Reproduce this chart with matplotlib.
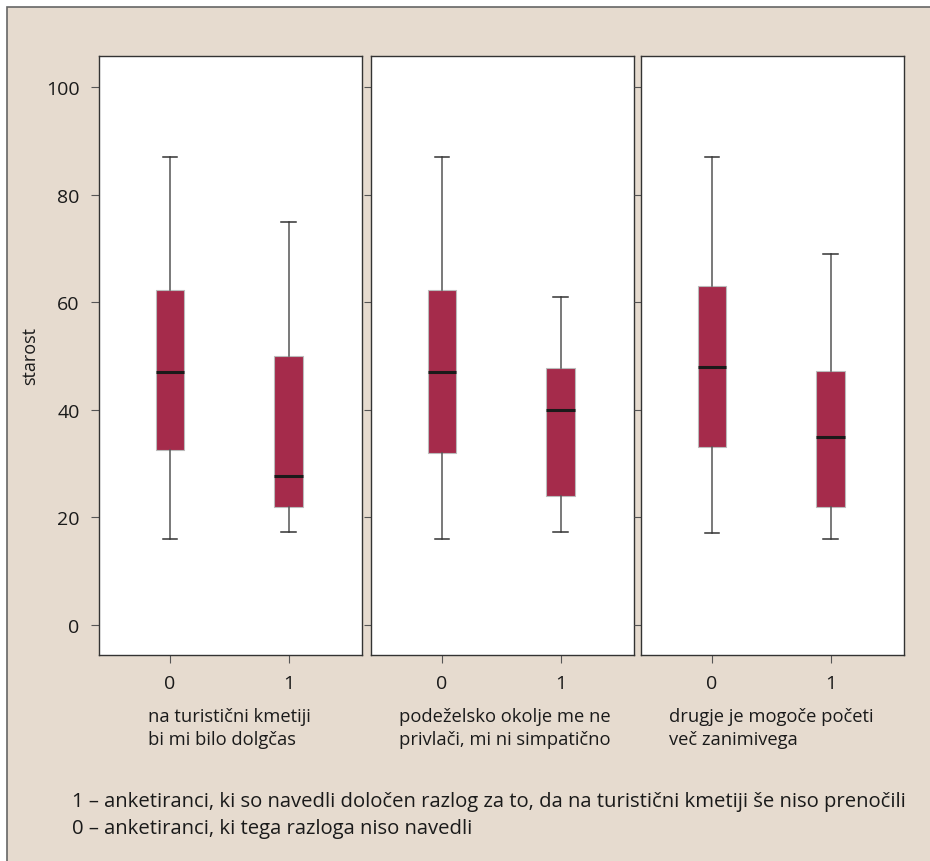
import matplotlib
matplotlib.use("Agg")
import matplotlib.pyplot as plt
from matplotlib.patches import Rectangle

plt.rcParams['font.family'] = ['Open Sans', 'DejaVu Sans']

groups = ["0", "1"]
panel_labels = [
    "na turistični kmetiji\nbi mi bilo dolgčas",
    "podeželsko okolje me ne\nprivlači, mi ni simpatično",
    "drugje je mogoče početi\nveč zanimivega",
]
# per panel, per group: whislo, q1, med, q3, whishi
whislo = [[16, 17.3], [16, 17.3], [17, 16]]
q1 = [[32.6, 21.9], [32, 24], [33, 22]]
med = [[47.1, 27.7], [47, 40], [48, 35]]
q3 = [[62.2, 50.1], [62.2, 47.8], [63, 47.2]]
whishi = [[87, 75], [87, 61], [87, 69]]
yticks = [0, 20, 40, 60, 80, 100]
ylabel = "starost"
footnotes = [
    "1 – anketiranci, ki so navedli določen razlog za to, da na turistični kmetiji še niso prenočili",
    "0 – anketiranci, ki tega razloga niso navedli",
]

BG = "#e6dbcf"
BOX = "#a52b4b"
W, H = 930, 862
fig = plt.figure(figsize=(W / 100, H / 100), dpi=100, facecolor="white")

# beige panel with gray border
bgax = fig.add_axes([0, 0, 1, 1], zorder=-10)
bgax.set_xlim(0, W)
bgax.set_ylim(H, 0)
bgax.axis("off")
bgax.add_patch(Rectangle((7, 8), W, H, facecolor=BG, edgecolor="#666666", linewidth=1.2))

lefts = [99, 371, 641]
pw = 263
top, bottom = 57, 656
FS = 14
for i in range(3):
    ax = fig.add_axes([lefts[i] / W, 1 - bottom / H, pw / W, (bottom - top) / H])
    ax.set_facecolor("white")
    stats = []
    for g in range(2):
        stats.append(dict(whislo=whislo[i][g], q1=q1[i][g], med=med[i][g],
                          q3=q3[i][g], whishi=whishi[i][g], fliers=[], label=groups[g]))
    ax.bxp(stats, positions=[0, 1], widths=0.24, patch_artist=True, showfliers=False,
           boxprops=dict(facecolor=BOX, edgecolor="#bbbbbb", linewidth=0.8),
           medianprops=dict(color="#1a1a1a", linewidth=2.2),
           whiskerprops=dict(color="#555555", linewidth=1.1),
           capprops=dict(color="#333333", linewidth=1.1),
           capwidths=0.12)
    ax.set_xlim(-0.6, 1.62)
    ax.set_ylim(-5.6, 105.8)
    ax.set_yticks(yticks)
    ax.set_xticks([0, 1])
    ax.set_xticklabels(groups, fontsize=FS)
    for s in ax.spines.values():
        s.set_color("#333333")
        s.set_linewidth(1.0)
    ax.tick_params(axis="both", length=6, width=0.8, color="#555555", pad=8, labelcolor="#1a1a1a")
    if i == 0:
        ax.set_yticklabels([str(t) for t in yticks], fontsize=FS)
        ax.tick_params(axis="y", pad=8)
        ax.set_ylabel(ylabel, fontsize=13, labelpad=5, color="#1a1a1a")
    else:
        ax.set_yticklabels([])
        ax.tick_params(axis="y", length=5)

label_x = [148, 399, 669]
for i in range(3):
    fig.text(label_x[i] / W, 1 - 708 / H, panel_labels[i], fontsize=13.2, va="top", ha="left",
             color="#1a1a1a", linespacing=1.38)

fig.text(72 / W, 1 - 802 / H, footnotes[0], fontsize=14.6, va="center", ha="left", color="#1a1a1a")
fig.text(72 / W, 1 - 829 / H, footnotes[1], fontsize=14.6, va="center", ha="left", color="#1a1a1a")

fig.savefig("out.png", dpi=100, facecolor="white")
